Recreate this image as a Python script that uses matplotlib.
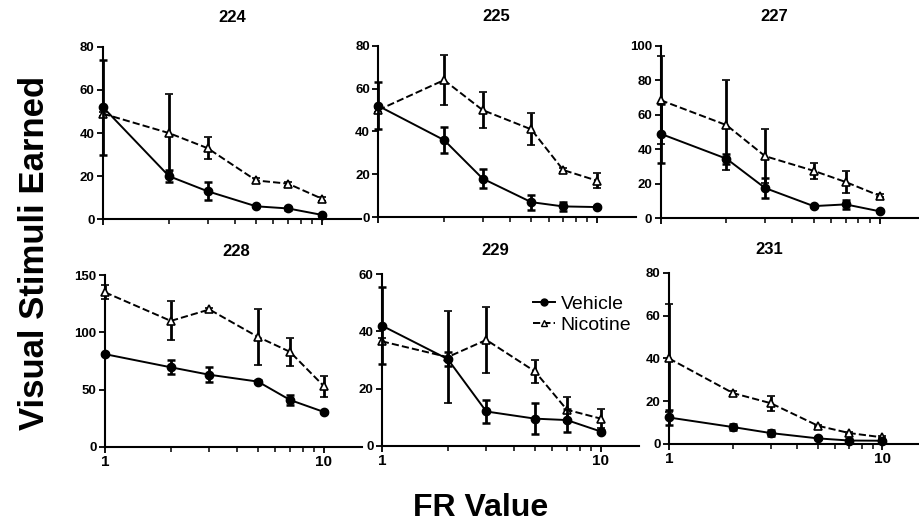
import numpy as np
import matplotlib.pyplot as plt
from matplotlib.lines import Line2D

plt.rcParams['font.family'] = ['Liberation Sans', 'DejaVu Sans']

# FR values shared by every panel
fr_values = [1, 2, 3, 5, 7, 10]

subjects = ["224", "225", "227", "228", "229", "231"]

vehicle_224 = [52, 20, 13, 6, 5, 2]
vehicle_224_err = [22, 2.7, 4.2, 0.5, 0.5, 0.5]
nicotine_224 = [49, 40, 33, 18, 16.5, 9.5]
nicotine_224_err = [1, 18, 5, 1, 1, 1]

vehicle_225 = [52, 36, 18, 7, 5, 4.7]
vehicle_225_err = [11, 6, 4.6, 3.5, 2, 0.5]
nicotine_225 = [50, 64, 50, 41, 22, 17]
nicotine_225_err = [1, 11.5, 8.5, 7.5, 1, 3.5]

vehicle_227 = [49, 34.5, 17.5, 7, 8, 4]
vehicle_227_err = [17, 3, 6, 0.5, 2.5, 0.5]
nicotine_227 = [68.5, 54, 36, 27.5, 21, 13]
nicotine_227_err = [25.5, 26, 15.5, 4.8, 6.3, 1]

vehicle_228 = [81, 69.5, 63, 57, 41, 30.5]
vehicle_228_err = [1, 6, 6.5, 1, 4, 1]
nicotine_228 = [135, 110, 120, 96, 83, 53]
nicotine_228_err = [6, 17, 1, 24.5, 12, 9]

vehicle_229 = [42, 30.3, 12, 9.5, 9, 5]
vehicle_229_err = [13.5, 2.5, 4, 5.5, 4, 0.5]
nicotine_229 = [36.5, 31, 37, 26, 12.6, 9.5]
nicotine_229_err = [1, 16, 11.6, 4, 4.3, 3.4]

vehicle_231 = [12.3, 7.8, 5, 2.5, 1.5, 1.4]
vehicle_231_err = [3.3, 1.5, 1.5, 0.5, 0.5, 0.5]
nicotine_231 = [40, 23.7, 19, 8.4, 5, 3]
nicotine_231_err = [25.3, 1, 3.5, 0.5, 0.5, 0.5]

y_tops = [80, 80, 100, 150, 60, 80]
y_steps = [20, 20, 20, 50, 20, 20]

panels = {
    "224": (vehicle_224, vehicle_224_err, nicotine_224, nicotine_224_err),
    "225": (vehicle_225, vehicle_225_err, nicotine_225, nicotine_225_err),
    "227": (vehicle_227, vehicle_227_err, nicotine_227, nicotine_227_err),
    "228": (vehicle_228, vehicle_228_err, nicotine_228, nicotine_228_err),
    "229": (vehicle_229, vehicle_229_err, nicotine_229, nicotine_229_err),
    "231": (vehicle_231, vehicle_231_err, nicotine_231, nicotine_231_err),
}

rects = [
    (0.112, 0.584, 0.280, 0.327),
    (0.411, 0.588, 0.280, 0.325),
    (0.718, 0.586, 0.280, 0.327),
    (0.114, 0.152, 0.280, 0.326),
    (0.415, 0.154, 0.280, 0.326),
    (0.727, 0.158, 0.273, 0.324),
]
title_x = [0.5, 0.46, 0.44, 0.51, 0.44, 0.40]


# Draw one subject panel
def draw_panel(ax, name, top, step, tx, bottom_row):
    veh, veh_err, nic, nic_err = panels[name]
    ax.errorbar(fr_values, nic, yerr=nic_err, color="black", ls="--", lw=1.4,
                marker="^", ms=6, mfc="white", mec="black", mew=1.2,
                elinewidth=2, capsize=3, capthick=1.8, clip_on=False, zorder=3)
    ax.errorbar(fr_values, veh, yerr=veh_err, color="black", ls="-", lw=1.4,
                marker="o", ms=6, mfc="black", mec="black",
                elinewidth=2, capsize=3, capthick=1.8, clip_on=False, zorder=4)
    ax.set_xscale("log")
    ax.set_xlim(1, 15)
    ax.set_ylim(0, top)
    ax.set_yticks(np.arange(0, top + 1, step))
    ax.set_xticks([1, 10])
    ax.set_xticks(range(2, 10), minor=True)
    if bottom_row:
        ax.set_xticklabels(["1", "10"], fontsize=11, fontweight="bold")
    else:
        ax.set_xticklabels([])
    ax.xaxis.set_minor_formatter(plt.NullFormatter())
    for lab in ax.get_yticklabels():
        lab.set_fontweight("bold")
        lab.set_fontsize(9.5)
    ax.spines["top"].set_visible(False)
    ax.spines["right"].set_visible(False)
    ax.spines["left"].set_linewidth(1.5)
    ax.spines["bottom"].set_linewidth(1.5)
    ax.tick_params(which="major", length=4.5, width=1.3, pad=1.5)
    ax.tick_params(which="minor", length=3.5, width=1.1)
    ax.set_title(name, x=tx, fontsize=12, fontweight="bold", pad=14 if bottom_row else 18)


fig = plt.figure(figsize=(9.2, 5.27), dpi=100)

for i, name in enumerate(subjects):
    ax = fig.add_axes(rects[i])
    draw_panel(ax, name, y_tops[i], y_steps[i], title_x[i], i >= 3)
    if name == "229":
        handles = [
            Line2D([], [], color="black", ls="-", lw=1.4, marker="o", ms=5, mfc="black"),
            Line2D([], [], color="black", ls="--", lw=1.4, marker="^", ms=5, mfc="white"),
        ]
        ax.legend(handles, ["Vehicle", "Nicotine"], loc="upper left", bbox_to_anchor=(0.52, 0.98),
                  frameon=False, fontsize=14, handlelength=1.1, handletextpad=0.3, labelspacing=0.2)

fig.text(0.038, 0.52, "Visual Stimuli Earned", rotation=90, ha="center", va="center",
         fontsize=25, fontweight="bold")
fig.text(0.522, 0.036, "FR Value", ha="center", va="center", fontsize=23, fontweight="bold")

fig.savefig("out.png", dpi=100)
